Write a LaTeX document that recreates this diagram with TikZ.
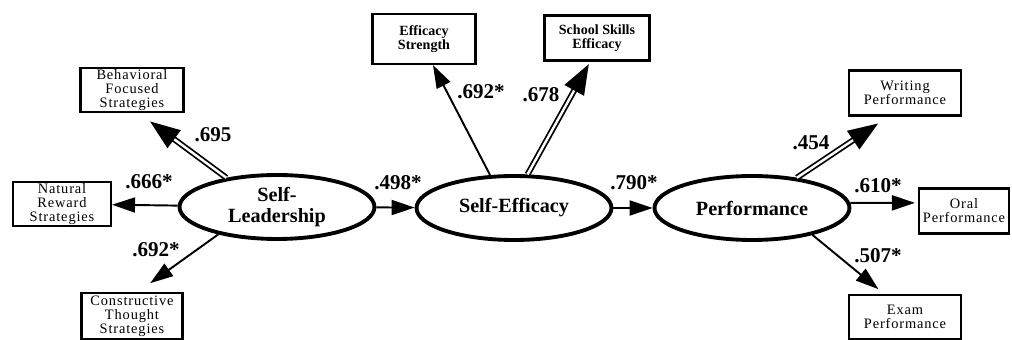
\documentclass[tikz,border=0pt]{standalone}
\usepackage{fontspec}
\setmainfont{Liberation Serif}
\usetikzlibrary{arrows.meta,shapes.geometric}
\newcommand{\pxu}{0.02cm}
\tikzset{
    latsty/.style={draw,ellipse,line width=2.2pt,minimum width=3.9cm,minimum height=1.28cm,inner sep=0pt,align=center,font=\fontsize{11.5}{12}\selectfont\bfseries},
    obssty/.style={draw,rectangle,line width=1.2pt,inner sep=1pt,align=center,font=\fontsize{8.2}{8}\selectfont\addfontfeature{LetterSpace=6}},
    obsbsty/.style={obssty,font=\fontsize{8}{8}\selectfont\bfseries},
    pathsty/.style={draw,line width=1.1pt,->},
    dblsty/.style={draw,line width=1pt,double,double distance=1.4pt,-{Triangle[length=0.6cm,width=0.44cm]}},
    lblsty/.style={inner sep=0pt,font=\fontsize{12}{12}\selectfont\bfseries},
}

\begin{document}
\begin{tikzpicture}[x=\pxu,y=-\pxu,>={Triangle[length=0.46cm,width=0.3cm]}]
\useasboundingbox (0,0) rectangle (1012,340);

\node[latsty] (sl) at (277,207) {Self-\\Leadership};
\node[latsty] (se) at (514,208) {Self-Efficacy};
\node[latsty] (pf) at (752,208) {Performance};

\node[obssty,minimum width=2.06cm,minimum height=0.88cm] (bfs) at (132,90) {Behavioral\\Focused\\Strategies};
\node[obssty,minimum width=1.96cm,minimum height=0.8cm] (nrs) at (62,204) {Natural\\Reward\\Strategies};
\node[obssty,minimum width=2.02cm,minimum height=0.92cm] (cts) at (132,316) {Constructive\\Thought\\Strategies};
\node[obsbsty,minimum width=2.06cm,minimum height=1.0cm] (efs) at (424,39) {Efficacy\\Strength};
\node[obsbsty,minimum width=2.1cm,minimum height=0.9cm] (sse) at (597,38) {School Skills\\Efficacy};
\node[obssty,minimum width=2.24cm,minimum height=0.9cm] (wrp) at (905,93) {Writing\\Performance};
\node[obssty,minimum width=1.8cm,minimum height=0.9cm] (orp) at (964,211) {Oral\\Performance};
\node[obssty,minimum width=2.24cm,minimum height=0.88cm] (exp) at (905,317) {Exam\\Performance};

\draw[dblsty,shorten >=0.27cm] (sl.150) -- (bfs.-73);
\draw[pathsty] (sl) -- (nrs);
\draw[pathsty,shorten >=0.3cm] (sl.205) -- (cts.76);
\draw[pathsty] (sl) -- (se);
\draw[pathsty] (se.126) -- (efs.-71);
\draw[dblsty,shorten >=0.06cm] (se.68) -- (sse.-106);
\draw[pathsty] (se) -- (pf);
\draw[dblsty,shorten >=0.25cm] (pf.34) -- (wrp.-125);
\draw[pathsty,shorten >=0.06cm] (pf.3) -- (orp.170);
\draw[pathsty,shorten >=0.15cm] (pf.-24) -- (exp.132);

\node[lblsty] (l695) at (213,135) {.695};
\node[lblsty] (l666) at (149,182) {.666*};
\node[lblsty] (l692a) at (156,250) {.692*};
\node[lblsty] (l498) at (398,183) {.498*};
\node[lblsty] (l692b) at (481,92) {.692*};
\node[lblsty] (l678) at (541,95) {.678};
\node[lblsty] (l790) at (634,183) {.790*};
\node[lblsty] (l454) at (811,143) {.454};
\node[lblsty] (l610) at (878,186) {.610*};
\node[lblsty] (l507) at (878,256) {.507*};
\end{tikzpicture}
\end{document}
